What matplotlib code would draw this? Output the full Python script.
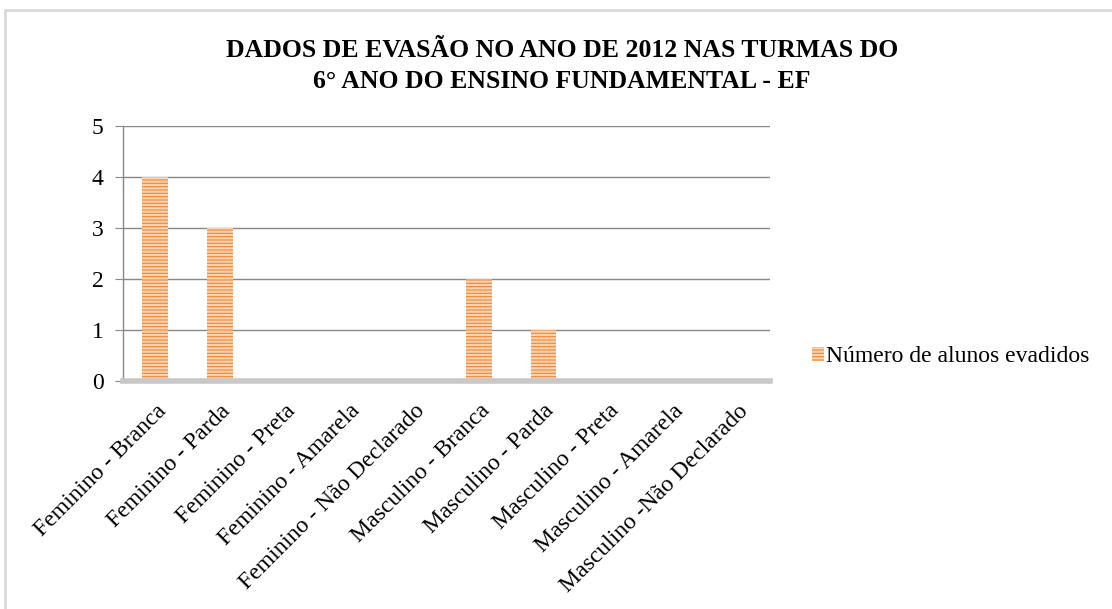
import matplotlib
matplotlib.use("Agg")
import matplotlib.pyplot as plt
from matplotlib.patches import Rectangle

categories = [
    "Feminino - Branca", "Feminino - Parda", "Feminino - Preta",
    "Feminino - Amarela", "Feminino - Não Declarado",
    "Masculino - Branca", "Masculino - Parda", "Masculino - Preta",
    "Masculino - Amarela", "Masculino -Não Declarado",
]
values = [4, 3, 0, 0, 0, 2, 1, 0, 0, 0]
yticks = [0, 1, 2, 3, 4, 5]
series_name = "Número de alunos evadidos"
title = "DADOS DE EVASÃO NO ANO DE 2012 NAS TURMAS DO\n6° ANO DO ENSINO FUNDAMENTAL - EF"

plt.rcParams['font.family'] = ['Liberation Serif', 'DejaVu Serif']
plt.rcParams['hatch.linewidth'] = 1.6
plt.rcParams['hatch.color'] = '#fbd3b0'

fig = plt.figure(figsize=(11.12, 6.09), dpi=100)
fig.patch.set_facecolor('white')
fig.add_artist(Rectangle((5/1112, -0.01), 1.2, 1 - 10/609 + 0.01, transform=fig.transFigure,
                         fill=False, edgecolor='#d9d9d9', linewidth=2))

ax = fig.add_axes([123/1112, 1 - 381/609, (770 - 123)/1112, (381 - 126)/609])
x = list(range(len(categories)))
bars = ax.bar(x, values, width=0.4, color='#ef8636', edgecolor='#fbd3b0', linewidth=0,
              hatch='-----', label=series_name, zorder=3)

ax.set_xlim(-0.5, len(categories) - 0.5)
ax.set_ylim(0, 5)
ax.set_yticks(yticks)
ax.set_yticklabels([str(v) for v in yticks], fontsize=17)
ax.set_xticks(x)
ax.set_xticklabels(categories, rotation=45, ha='right', rotation_mode='anchor', fontsize=17)
ax.tick_params(axis='x', length=0, pad=14)
ax.tick_params(axis='y', length=6, color='#888888', direction='out', pad=8)
ax.grid(axis='y', color='#888888', linewidth=1, zorder=0)
for s in ['top', 'right']:
    ax.spines[s].set_visible(False)
ax.spines['left'].set_color('#888888')
ax.spines['left'].set_linewidth(1)
ax.spines['bottom'].set_color('#c8c8c8')
ax.spines['bottom'].set_linewidth(4)
ax.spines['bottom'].set_zorder(4)

leg = fig.legend(handles=[bars], labels=[series_name], loc='center left',
                 bbox_to_anchor=(800/1112, 1 - 357/609), frameon=False, fontsize=17,
                 handlelength=0.5, handleheight=0.5, handletextpad=0.1, borderpad=0)

fig.text(562/1112, 1 - 66/609, title, ha='center', va='center', fontsize=18.5,
         fontweight='bold', linespacing=1.4)

fig.savefig('out.png', dpi=100)
